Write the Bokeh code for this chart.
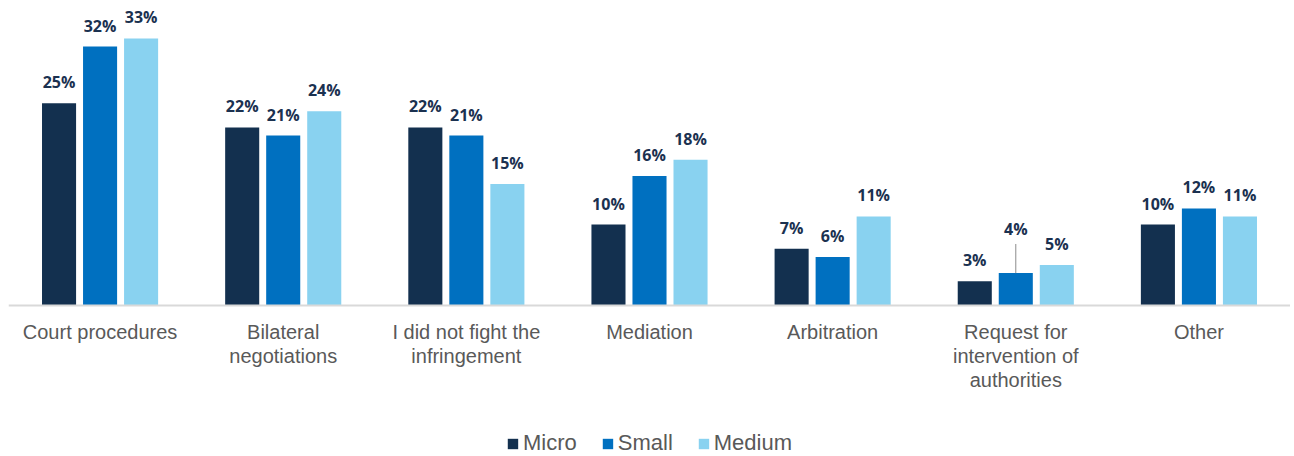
from bokeh.plotting import figure
from bokeh.models import ColumnDataSource, FactorRange, LabelSet, Legend, LegendItem, Span
from bokeh.transform import dodge
from bokeh.core.properties import value
from bokeh.embed import file_html
from bokeh.resources import INLINE

categories = ["Court procedures", "Bilateral\nnegotiations", "I did not fight the\ninfringement",
              "Mediation", "Arbitration", "Request for\nintervention of\nauthorities", "Other"]
series = ["Micro", "Small", "Medium"]
micro = [25, 22, 22, 10, 7, 3, 10]
small = [32, 21, 21, 16, 6, 4, 12]
medium = [33, 24, 15, 18, 11, 5, 11]
colors = ["#13304F", "#0070C0", "#89D2F0"]

p = figure(x_range=FactorRange(*categories, range_padding=0), y_range=(-18.66, 36.7),
           frame_width=1282, frame_height=448, output_backend="svg", toolbar_location=None,
           min_border_left=8, min_border_right=0, min_border_top=8, min_border_bottom=0)
p.outline_line_color = None
p.grid.visible = False
p.axis.visible = False

p.add_layout(Span(location=0, dimension="width", line_color="#D9D9D9", line_width=2))

# category labels under the baseline, one centred label per line
lc, lt, ly, lo = [], [], [], []
for cat in categories:
    for i, line in enumerate(cat.split("\n")):
        lc.append(cat)
        lt.append(line)
        ly.append(0)
        lo.append(-27 - 24 * i)
csrc = ColumnDataSource(dict(cat=lc, txt=lt, y=ly, off=lo))
p.add_layout(LabelSet(x="cat", y="y", text="txt", source=csrc, y_offset="off",
                      text_align="center", text_baseline="middle",
                      text_font=value("Liberation Sans"), text_font_size="20px",
                      text_color="#595959"))

offsets = [-0.224, 0.0, 0.224]
vals = [micro, small, medium]
items = []
for name, v, off, c in zip(series, vals, offsets, colors):
    lift = [15 + (23 if (name == "Small" and i == 5) else 0) for i in range(len(v))]
    src = ColumnDataSource(dict(cat=categories, val=v, lab=[f"{x}%" for x in v], lift=lift))
    r = p.vbar(x=dodge("cat", off, range=p.x_range), top="val", width=0.186, source=src,
               fill_color=c, line_color=None)
    items.append(LegendItem(label=name, renderers=[r]))
    lbl = LabelSet(x=dodge("cat", off, range=p.x_range), y="val", text="lab", source=src,
                   y_offset="lift", text_align="center", text_baseline="alphabetic",
                   text_font=value("Open Sans"), text_font_style="bold",
                   text_font_size="16px", text_color="#1B3150")
    p.add_layout(lbl)

# leader line for the lifted 4% label
lsrc = ColumnDataSource(dict(cat=[categories[5]], y0=[small[5]], y1=[small[5] + 3.6]))
p.segment(x0=dodge("cat", 0.0, range=p.x_range), y0="y0", x1=dodge("cat", 0.0, range=p.x_range),
          y1="y1", source=lsrc, line_color="#8C8C8C", line_width=1)

legend = Legend(items=items, orientation="horizontal", location="bottom_center",
                label_text_font="Liberation Sans", label_text_font_size="22px",
                label_text_color="#595959", glyph_width=13, glyph_height=13,
                label_standoff=4, spacing=24, border_line_color=None,
                background_fill_alpha=0, margin=0, padding=0)
legend.label_height = 20
p.add_layout(legend)

open("out.html", "w").write(file_html(p, INLINE))
